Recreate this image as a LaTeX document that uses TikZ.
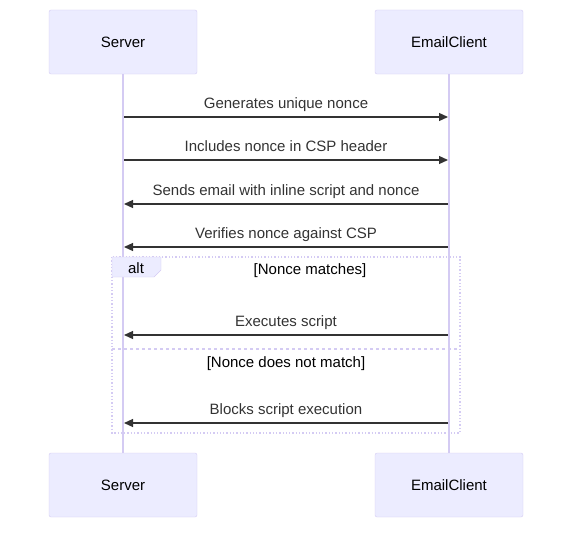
\documentclass[tikz,border=0pt]{standalone}
\usepackage{fontspec}
\setmainfont{Liberation Sans}
\usetikzlibrary{positioning}
\usetikzlibrary{arrows.meta}
\definecolor{actfill}{HTML}{ECECFF}
\definecolor{actline}{HTML}{D4CBF3}
\definecolor{msgline}{HTML}{333333}
\tikzset{actor/.style={draw=actline, fill=actfill, rounded corners=2pt,
minimum width=148pt, minimum height=64pt, font=\fontsize{15}{18}\selectfont},
msg/.style={draw=msgline, line width=1.2pt, -{Triangle[length=9pt,width=8pt]}},
msglabel/.style={font=\fontsize{15}{18}\selectfont, text=msgline, anchor=base},
lifeline/.style={draw=actline, line width=1.4pt}}

\begin{document}
\begin{tikzpicture}[x=1pt, y=-1pt]
	\useasboundingbox (0,0) rectangle (580,535);
	% actors
	\node[actor](srvtop) at (123,42) {Server};
	\node[actor](clitop) at (449,42) {EmailClient};
	\node[actor](srvbot) at (123,485) {Server};
	\node[actor](clibot) at (449,485) {EmailClient};
	\draw[lifeline] (srvtop) -- (srvbot);
	\draw[lifeline] (clitop) -- (clibot);
	% alt block
	\draw[actline, line width=1.3pt, dotted] (112,257) rectangle (460,433);
	\draw[actline, line width=1.3pt, dash pattern=on 3pt off 3pt] (112,349) -- (460,349);
	\draw[actline, fill=actfill] (112,257) -- (161,257) -- (161,270) -- (154,277) -- (112,277) -- cycle;
	\node[msglabel, text=black](alt) at (136,273) {alt};
	\node[msglabel, text=black](g1) at (310,274.5) {[Nonce matches]};
	\node[msglabel, text=black](g2) at (286,367.5) {[Nonce does not match]};
	% messages
	\foreach \y/\txt/\dir in {117/Generates unique nonce/r, 160/Includes nonce in CSP header/r,
		204/Sends email with inline script and nonce/l, 247/Verifies nonce against CSP/l,
		335/Executes script/l, 423/Blocks script execution/l}{
		\coordinate (a) at (124,\y);
		\coordinate (b) at (448,\y);
		\node[msglabel] at (286,\y-8.5) {\txt};
		\if\dir r
			\draw[msg] (a) -- (b);
		\else
			\draw[msg] (b) -- (a);
		\fi
	}
\end{tikzpicture}
\end{document}
